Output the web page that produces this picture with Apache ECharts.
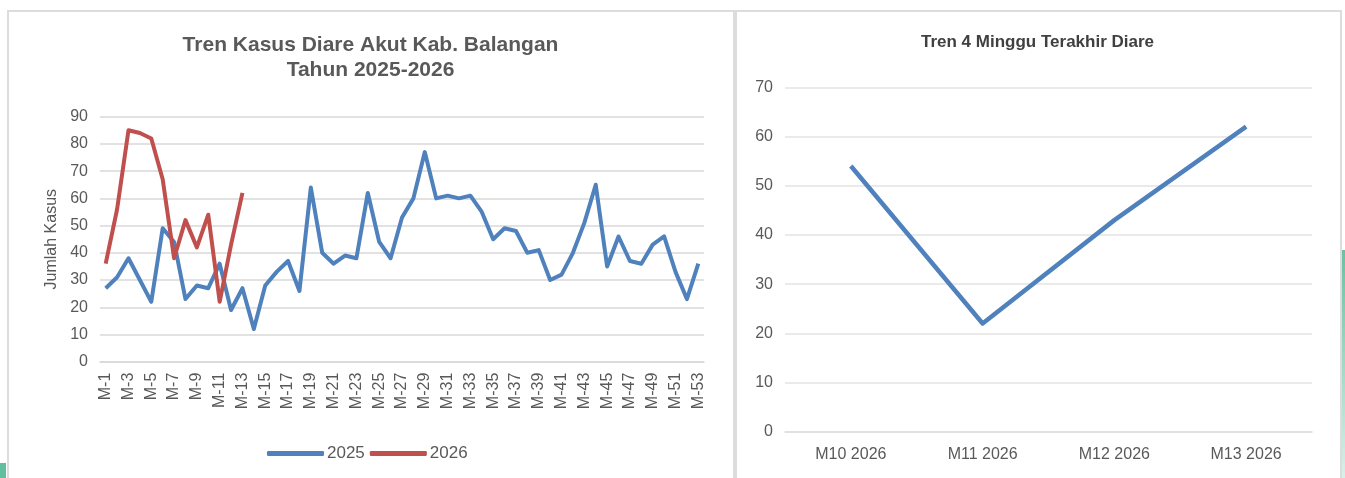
<!DOCTYPE html>
<html>
<head>
<meta charset="utf-8">
<title>Tren Kasus Diare</title>
<script src="https://cdn.jsdelivr.net/npm/echarts@6/dist/echarts.min.js"></script>
<style>
    body {
        margin: 0;
        background: #fff;
        width: 1345px;
        height: 478px;
        overflow: hidden;
        position: relative;
    }

    .card {
        position: absolute;
        top: 10px;
        height: 480px;
        border: 2px solid #dcdcdc;
        box-sizing: border-box;
    }

    .chart {
        position: absolute;
        top: 0;
        height: 478px;
    }
</style>
</head>
<body>
<div class="card" style="left:7px;width:728px;"></div>
<div class="card" style="left:735px;width:607px;"></div>
<div style="position:absolute;left:0;top:463px;width:6px;height:15px;background:#5fbf9f;"></div>
<div style="position:absolute;left:1342px;top:250px;width:3px;height:228px;background:linear-gradient(#6cc0a0,#d8f0ea);"></div>

<div id="main1" class="chart" style="left:7px;width:727px;"></div>
<div id="main2" class="chart" style="left:735px;width:605px;"></div>

<script>
    // minggu epidemiologi M-1 .. M-53
    var minggu = [];
    for (var i = 1; i <= 53; i++) {
        minggu.push('M-' + i);
    }

    var kasus2025 = [27, 31, 38, 30, 22, 49, 44, 23, 28, 27,
        36, 19, 27, 12, 28, 33, 37, 26, 64, 40,
        36, 39, 38, 62, 44, 38, 53, 60, 77, 60,
        61, 60, 61, 55, 45, 49, 48, 40, 41, 30,
        32, 40, 51, 65, 35, 46, 37, 36, 43, 46,
        33, 23, 36];
    var kasus2026 = [36, 56, 85, 84, 82, 67, 38, 52, 42, 54, 22, 43, 62];

    // 4 minggu terakhir
    var minggu4 = ['M10 2026', 'M11 2026', 'M12 2026', 'M13 2026'];
    var kasus4 = kasus2026.slice(-4);

    var font = 'Liberation Sans, Arial, Helvetica, sans-serif';
    var abu = '#595959';

    var chart1 = echarts.init(document.getElementById('main1'));
    chart1.setOption({
        animation: false,
        textStyle: { fontFamily: font },
        title: {
            text: 'Tren Kasus Diare Akut Kab. Balangan\nTahun 2025-2026',
            left: 'center',
            top: 33,
            padding: 0,
            textStyle: { fontSize: 21, fontWeight: 'bold', color: abu, lineHeight: 25, fontFamily: font }
        },
        legend: {
            data: ['2025', '2026'],
            left: 255,
            top: 440,
            icon: 'roundRect',
            itemWidth: 57,
            itemHeight: 5,
            itemGap: 5,
            textStyle: { fontSize: 17, color: abu, padding: [0, 0, 0, -2] }
        },
        grid: { left: 93, right: 30, top: 116.7, bottom: 116.3 },
        xAxis: {
            type: 'category',
            data: minggu,
            boundaryGap: true,
            axisTick: { show: false },
            axisLine: { lineStyle: { color: '#d9d9d9', width: 1.5 } },
            axisLabel: { rotate: 90, interval: 1, fontSize: 16, color: abu, margin: 11 }
        },
        yAxis: {
            type: 'value',
            min: 0,
            max: 90,
            interval: 10,
            name: 'Jumlah Kasus',
            nameLocation: 'middle',
            nameGap: 40,
            nameTextStyle: { fontSize: 16, color: abu },
            axisLabel: { fontSize: 16, color: abu, margin: 12 },
            splitLine: { lineStyle: { color: '#d9d9d9', width: 1.5 } }
        },
        series: [
            {
                name: '2025',
                type: 'line',
                data: kasus2025,
                showSymbol: false,
                symbol: 'none',
                color: '#4F81BD',
                lineStyle: { width: 4, color: '#4F81BD', join: 'round' }
            },
            {
                name: '2026',
                type: 'line',
                data: kasus2026,
                showSymbol: false,
                symbol: 'none',
                color: '#C0504D',
                lineStyle: { width: 4, color: '#C0504D', join: 'round' }
            }
        ]
    });

    var chart2 = echarts.init(document.getElementById('main2'));
    chart2.setOption({
        animation: false,
        textStyle: { fontFamily: font },
        title: {
            text: 'Tren 4 Minggu Terakhir Diare',
            left: 'center',
            top: 34,
            padding: 0,
            textStyle: { fontSize: 17, fontWeight: 'bold', color: '#404040', fontFamily: font }
        },
        grid: { left: 50, right: 28, top: 87.3, bottom: 46.3 },
        xAxis: {
            type: 'category',
            data: minggu4,
            boundaryGap: true,
            axisTick: { show: false },
            axisLine: { lineStyle: { color: '#dedede', width: 1.5 } },
            axisLabel: { fontSize: 16, color: abu, margin: 15 }
        },
        yAxis: {
            type: 'value',
            min: 0,
            max: 70,
            interval: 10,
            axisLabel: { fontSize: 16, color: abu, margin: 12 },
            splitLine: { lineStyle: { color: '#e3e3e3', width: 1.5 } }
        },
        series: [
            {
                name: 'Kasus',
                type: 'line',
                data: kasus4,
                showSymbol: false,
                symbol: 'none',
                lineStyle: { width: 4.5, color: '#4F81BD', join: 'round' }
            }
        ]
    });
</script>
</body>
</html>
